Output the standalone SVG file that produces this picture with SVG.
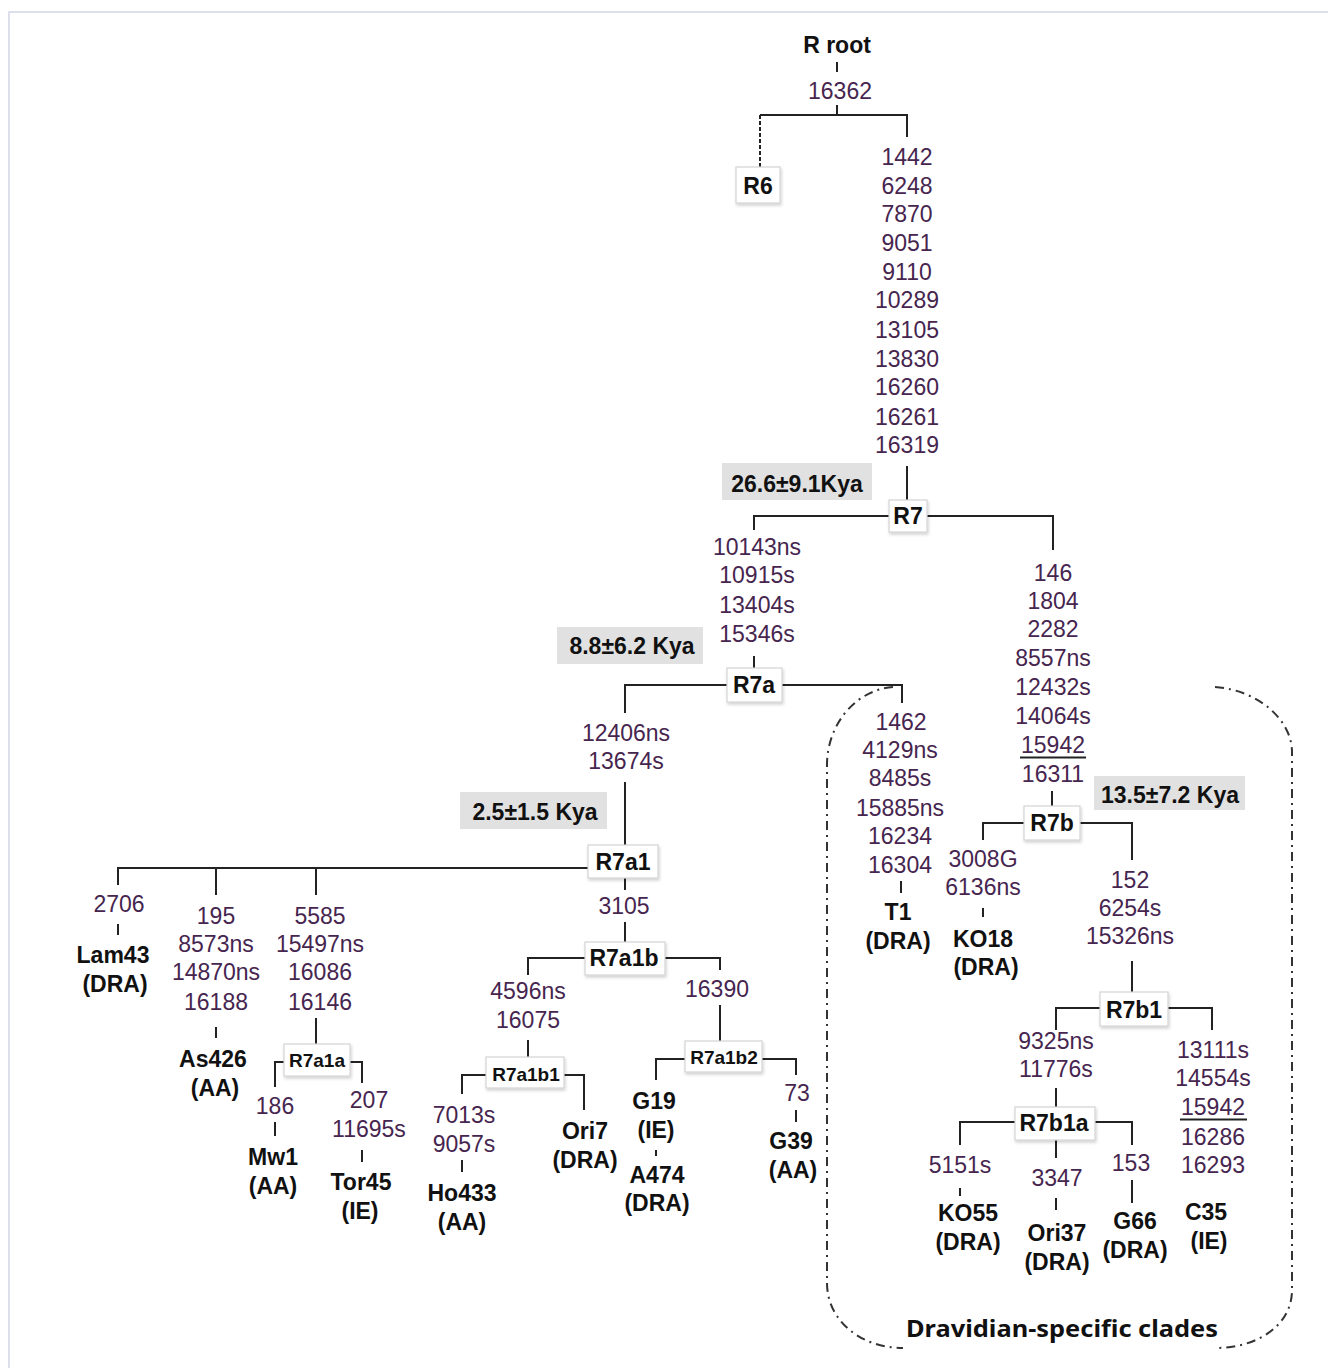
<svg xmlns="http://www.w3.org/2000/svg" width="1328" height="1368" viewBox="0 0 1328 1368">
<style>
  .m{font-family:"Liberation Sans",Arial,sans-serif;font-size:23px;fill:#46254f;text-anchor:middle}
  .b{font-family:"Liberation Sans",Arial,sans-serif;font-size:23px;font-weight:bold;fill:#111;text-anchor:middle}
  .s{font-family:"Liberation Sans",Arial,sans-serif;font-size:19px;font-weight:bold;fill:#111;text-anchor:middle}
  .box{fill:#fff;stroke:#d4d4d4;stroke-width:1.2}
  .age{fill:#e1e1e1}
  .ln{fill:none;stroke:#222;stroke-width:2}
  .clade{fill:none;stroke:#333;stroke-width:2;stroke-dasharray:9 5 2 5}
</style>
<defs>
  <filter id="sh" x="-20%" y="-20%" width="140%" height="150%">
    <feDropShadow dx="1" dy="2" stdDeviation="1.5" flood-color="#000" flood-opacity="0.18"/>
  </filter>
</defs>
<rect x="0" y="0" width="1328" height="1368" fill="#fff"/>
<rect x="9" y="12" width="1330" height="1370" fill="none" stroke="#dde0ea" stroke-width="2"/>

<g id="clade-outline">
  <path class="clade" d="M893 687 C855 690 827 725 827 765 L827 1283 C827 1320 860 1348 903 1348"/>
  <path class="clade" d="M1215 687 C1258 690 1292 720 1292 752 L1292 1290 C1292 1325 1258 1348 1215 1348"/>
  <text x="1062" y="1337" font-family="'Noto Sans','Open Sans',sans-serif" font-size="23" font-weight="bold" fill="#111" text-anchor="middle" textLength="312" lengthAdjust="spacingAndGlyphs">Dravidian-specific clades</text>
</g>

<g id="connectors">
  <path class="ln" d="M837 62V72M837 105V115M760 115H907V137"/>
  <path class="ln" d="M760 115V168" stroke-dasharray="4 2"/>
  <path class="ln" d="M907 466V500M754 530V516H1053V550"/>
  <path class="ln" d="M754 656V668M625 713V685H902V703"/>
  <path class="ln" d="M625 782V845"/>
  <path class="ln" d="M118 885V868H588M216 868V895M316 868V895"/>
  <path class="ln" d="M625 878V890M625 922V942"/>
  <path class="ln" d="M118 924V935M216 1027V1038"/>
  <path class="ln" d="M316 1018V1044M275 1087V1062H362V1083"/>
  <path class="ln" d="M275 1122V1136M362 1150V1162"/>
  <path class="ln" d="M528 975V958H720V970"/>
  <path class="ln" d="M528 1040V1058M462 1094V1075H584V1110M462 1160V1172"/>
  <path class="ln" d="M720 1005V1041M656 1080V1059H796V1075"/>
  <path class="ln" d="M656 1150V1156M796 1110V1122"/>
  <path class="ln" d="M901 881V893"/>
  <path class="ln" d="M1052 791V806M983 840V823H1132V860M983 908V917"/>
  <path class="ln" d="M1132 961V992M1056 1030V1008H1212V1030"/>
  <path class="ln" d="M1056 1088V1107M960 1145V1122H1132V1145M1056 1140V1158"/>
  <path class="ln" d="M960 1188V1196M1056 1198V1210M1132 1180V1203"/>
</g>

<g id="mutations">
  <text class="m" x="840" y="99">16362</text>
  <text class="m" x="907" y="165">1442</text>
  <text class="m" x="907" y="194">6248</text>
  <text class="m" x="907" y="222">7870</text>
  <text class="m" x="907" y="251">9051</text>
  <text class="m" x="907" y="280">9110</text>
  <text class="m" x="907" y="308">10289</text>
  <text class="m" x="907" y="338">13105</text>
  <text class="m" x="907" y="367">13830</text>
  <text class="m" x="907" y="395">16260</text>
  <text class="m" x="907" y="425">16261</text>
  <text class="m" x="907" y="453">16319</text>

  <text class="m" x="757" y="555">10143ns</text>
  <text class="m" x="757" y="583">10915s</text>
  <text class="m" x="757" y="613">13404s</text>
  <text class="m" x="757" y="642">15346s</text>

  <text class="m" x="1053" y="581">146</text>
  <text class="m" x="1053" y="609">1804</text>
  <text class="m" x="1053" y="637">2282</text>
  <text class="m" x="1053" y="666">8557ns</text>
  <text class="m" x="1053" y="695">12432s</text>
  <text class="m" x="1053" y="724">14064s</text>
  <text class="m" x="1053" y="753">15942</text>
  <path class="ln" d="M1020 757.5H1086" stroke-width="1.6"/>
  <text class="m" x="1053" y="782">16311</text>

  <text class="m" x="626" y="741">12406ns</text>
  <text class="m" x="626" y="769">13674s</text>

  <text class="m" x="901" y="730">1462</text>
  <text class="m" x="900" y="758">4129ns</text>
  <text class="m" x="900" y="786">8485s</text>
  <text class="m" x="900" y="816">15885ns</text>
  <text class="m" x="900" y="844">16234</text>
  <text class="m" x="900" y="873">16304</text>

  <text class="m" x="119" y="912">2706</text>
  <text class="m" x="216" y="924">195</text>
  <text class="m" x="216" y="952">8573ns</text>
  <text class="m" x="216" y="980">14870ns</text>
  <text class="m" x="216" y="1010">16188</text>
  <text class="m" x="320" y="924">5585</text>
  <text class="m" x="320" y="952">15497ns</text>
  <text class="m" x="320" y="980">16086</text>
  <text class="m" x="320" y="1010">16146</text>
  <text class="m" x="275" y="1114">186</text>
  <text class="m" x="369" y="1108">207</text>
  <text class="m" x="369" y="1137">11695s</text>

  <text class="m" x="624" y="914">3105</text>
  <text class="m" x="528" y="999">4596ns</text>
  <text class="m" x="528" y="1028">16075</text>
  <text class="m" x="464" y="1123">7013s</text>
  <text class="m" x="464" y="1152">9057s</text>
  <text class="m" x="717" y="997">16390</text>
  <text class="m" x="797" y="1101">73</text>

  <text class="m" x="983" y="867">3008G</text>
  <text class="m" x="983" y="895">6136ns</text>
  <text class="m" x="1130" y="888">152</text>
  <text class="m" x="1130" y="916">6254s</text>
  <text class="m" x="1130" y="944">15326ns</text>
  <text class="m" x="1056" y="1049">9325ns</text>
  <text class="m" x="1056" y="1077">11776s</text>
  <text class="m" x="1213" y="1058">13111s</text>
  <text class="m" x="1213" y="1086">14554s</text>
  <text class="m" x="1213" y="1115">15942</text>
  <path class="ln" d="M1180 1119.5H1247" stroke-width="1.6"/>
  <text class="m" x="1213" y="1145">16286</text>
  <text class="m" x="1213" y="1173">16293</text>
  <text class="m" x="960" y="1173">5151s</text>
  <text class="m" x="1057" y="1186">3347</text>
  <text class="m" x="1131" y="1171">153</text>
</g>

<g id="ages">
  <g id="age-R7"><rect class="age" x="722" y="463" width="150" height="37"/><text class="b" x="797" y="492">26.6±9.1Kya</text></g>
  <g id="age-R7a"><rect class="age" x="557" y="627" width="146" height="37"/><text class="b" x="632" y="654">8.8±6.2 Kya</text></g>
  <g id="age-R7a1"><rect class="age" x="460" y="792" width="147" height="37"/><text class="b" x="535" y="820">2.5±1.5 Kya</text></g>
  <g id="age-R7b"><rect class="age" x="1094" y="776" width="151" height="34"/><text class="b" x="1170" y="803">13.5±7.2 Kya</text></g>
</g>

<g id="node-Rroot"><text class="b" x="837" y="53">R root</text></g>
<g id="node-R6"><rect class="box" filter="url(#sh)" x="736" y="167" width="44" height="36"/><text class="b" x="758" y="194">R6</text></g>
<g id="node-R7"><rect class="box" filter="url(#sh)" x="889" y="500" width="38" height="32"/><text class="b" x="908" y="524">R7</text></g>
<g id="node-R7a"><rect class="box" filter="url(#sh)" x="727" y="668" width="55" height="34"/><text class="b" x="754" y="693">R7a</text></g>
<g id="node-R7a1"><rect class="box" filter="url(#sh)" x="588" y="845" width="70" height="33"/><text class="b" x="623" y="870">R7a1</text></g>
<g id="node-R7a1a"><rect class="box" filter="url(#sh)" x="284" y="1044" width="66" height="32"/><text class="s" x="317" y="1067">R7a1a</text></g>
<g id="node-R7a1b"><rect class="box" filter="url(#sh)" x="585" y="942" width="80" height="33"/><text class="b" x="624" y="966">R7a1b</text></g>
<g id="node-R7a1b1"><rect class="box" filter="url(#sh)" x="486" y="1057" width="78" height="31"/><text class="s" x="526" y="1081">R7a1b1</text></g>
<g id="node-R7a1b2"><rect class="box" filter="url(#sh)" x="685" y="1041" width="77" height="31"/><text class="s" x="724" y="1064">R7a1b2</text></g>
<g id="node-R7b"><rect class="box" filter="url(#sh)" x="1024" y="806" width="56" height="34"/><text class="b" x="1052" y="831">R7b</text></g>
<g id="node-R7b1"><rect class="box" filter="url(#sh)" x="1100" y="992" width="68" height="34"/><text class="b" x="1134" y="1018">R7b1</text></g>
<g id="node-R7b1a"><rect class="box" filter="url(#sh)" x="1015" y="1107" width="80" height="33"/><text class="b" x="1054" y="1131">R7b1a</text></g>

<g id="node-Lam43"><text class="b" x="113" y="963">Lam43</text><text class="b" x="115" y="992">(DRA)</text></g>
<g id="node-As426"><text class="b" x="213" y="1067">As426</text><text class="b" x="215" y="1096">(AA)</text></g>
<g id="node-Mw1"><text class="b" x="273" y="1165">Mw1</text><text class="b" x="273" y="1194">(AA)</text></g>
<g id="node-Tor45"><text class="b" x="361" y="1190">Tor45</text><text class="b" x="360" y="1219">(IE)</text></g>
<g id="node-Ho433"><text class="b" x="462" y="1201">Ho433</text><text class="b" x="462" y="1230">(AA)</text></g>
<g id="node-Ori7"><text class="b" x="585" y="1139">Ori7</text><text class="b" x="585" y="1168">(DRA)</text></g>
<g id="node-G19"><text class="b" x="654" y="1109">G19</text><text class="b" x="656" y="1138">(IE)</text></g>
<g id="node-A474"><text class="b" x="657" y="1183">A474</text><text class="b" x="657" y="1211">(DRA)</text></g>
<g id="node-G39"><text class="b" x="791" y="1149">G39</text><text class="b" x="793" y="1178">(AA)</text></g>
<g id="node-T1"><text class="b" x="898" y="920">T1</text><text class="b" x="898" y="949">(DRA)</text></g>
<g id="node-KO18"><text class="b" x="983" y="947">KO18</text><text class="b" x="986" y="975">(DRA)</text></g>
<g id="node-KO55"><text class="b" x="968" y="1221">KO55</text><text class="b" x="968" y="1250">(DRA)</text></g>
<g id="node-Ori37"><text class="b" x="1057" y="1241">Ori37</text><text class="b" x="1057" y="1270">(DRA)</text></g>
<g id="node-G66"><text class="b" x="1135" y="1229">G66</text><text class="b" x="1135" y="1258">(DRA)</text></g>
<g id="node-C35"><text class="b" x="1206" y="1220">C35</text><text class="b" x="1209" y="1249">(IE)</text></g>
</svg>
